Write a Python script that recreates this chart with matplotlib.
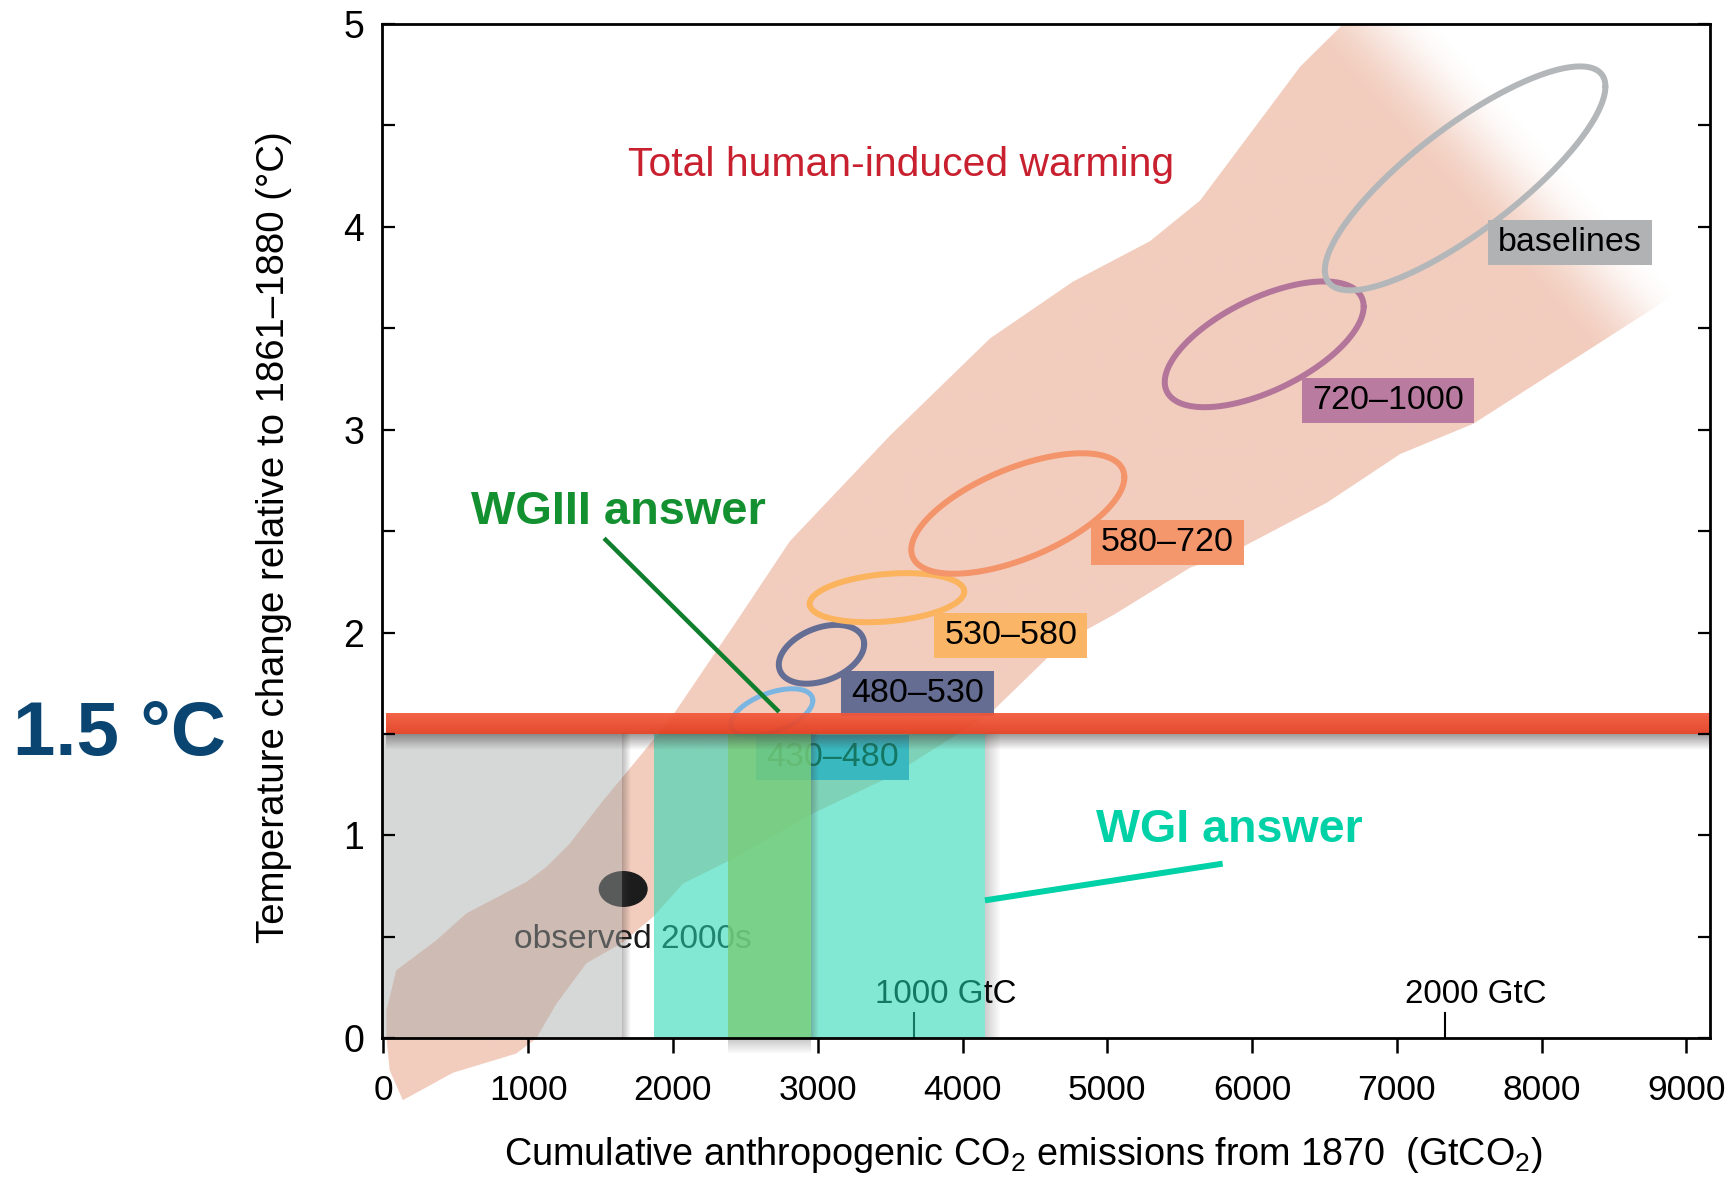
import numpy as np
import matplotlib
matplotlib.use("Agg")
import matplotlib.pyplot as plt
from matplotlib import font_manager as fm
from matplotlib.patches import Polygon, Rectangle, Ellipse
from matplotlib.colors import to_rgb
from matplotlib.ticker import MultipleLocator
from matplotlib.transforms import offset_copy

# ---------------- data ----------------
x_tick_values = [0, 1000, 2000, 3000, 4000, 5000, 6000, 7000, 8000, 9000]
y_tick_values = [0, 1, 2, 3, 4, 5]
gtc_marks = [1000, 2000]
gtc_labels = ["1000 GtC", "2000 GtC"]
GTCO2_PER_GTC = 3.667

# range of total human-induced warming (GtCO2, degC): upper-left and lower-right edges
band_left_x = [134, 43, 21, 21, 88, 365, 573, 988, 1126, 1287, 1515, 1748, 1978,
               2462, 2807, 3498, 4190, 4763, 4950, 5296, 5641, 5987, 6333, 6630, 7800]
band_left_y = [-0.305, -0.158, 0.0, 0.138, 0.335, 0.483, 0.616, 0.771, 0.845, 0.96,
               1.17, 1.37, 1.57, 2.08, 2.45, 2.97, 3.45, 3.73, 3.80, 3.93, 4.13,
               4.46, 4.79, 5.0, 5.0]
band_right_x = [134, 480, 918, 1056, 1195, 1402, 1644, 1862, 2070, 2439, 2968, 3498,
                4189, 4694, 5050, 5572, 5849, 6516, 7023, 7530, 8820, 9150]
band_right_y = [-0.305, -0.17, -0.075, 0.0, 0.17, 0.37, 0.468, 0.598, 0.763, 0.894,
                1.109, 1.289, 1.60, 1.95, 2.09, 2.32, 2.39, 2.64, 2.88, 3.03, 3.62, 3.80]
band_fade_x = [7220, 8860]
band_fade_y = [4.95, 3.64]

# scenario categories (ppm CO2-eq): centre, half-ranges and correlation
scenario_labels = ["430–480", "480–530", "530–580", "580–720", "720–1000", "baselines"]
scenario_cx = [2683, 3026, 3478, 4382, 6084, 7472]
scenario_cy = [1.607, 1.893, 2.172, 2.587, 3.421, 4.239]
scenario_rx = [283, 295, 534, 736, 687, 969]
scenario_ry = [0.116, 0.145, 0.121, 0.297, 0.310, 0.552]
scenario_rho = [0.5, 0.35, 0.25, 0.6, 0.6, 0.82]
label_x = [3100, 3692, 4333, 5416, 6942, 8196]
label_y = [1.383, 1.700, 1.987, 2.443, 3.142, 3.925]

observed_x, observed_y = 1656, 0.736

past_range = [0, 1648]
wgi_range = [1867, 4155]
wgiii_range = [2381, 2952]
limit_temp = 1.5
limit_top = 1.6

wgiii_pointer_x = [1524, 2733]
wgiii_pointer_y = [2.465, 1.609]
wgi_pointer_x = [4155, 5797]
wgi_pointer_y = [0.680, 0.861]

# ---------------- styles ----------------
ellipse_colors = ["#7bb6e3", "#646d93", "#fbb35e", "#f4946a", "#b3759a", "#b4b7b9"]
ellipse_widths = [3.6, 4.3, 4.3, 4.3, 4.3, 4.3]
box_colors = ["#5792d2", "#666d93", "#fbb566", "#f5976d", "#b97ca0", "#b0b2b4"]
band_rgb = (242 / 255, 205 / 255, 190 / 255)

available = {f.name for f in fm.fontManager.ttflist}
NARROW = next((n for n in ["Liberation Sans Narrow", "Liberation Sans", "DejaVu Sans"]
               if n in available), "DejaVu Sans")
BOLD = next((n for n in ["Liberation Sans", "Roboto", "DejaVu Sans"] if n in available),
            "DejaVu Sans")

plt.rcParams["font.family"] = [NARROW, "DejaVu Sans"]
plt.rcParams["mathtext.fontset"] = "custom"
plt.rcParams["mathtext.rm"] = NARROW
plt.rcParams["mathtext.it"] = NARROW
plt.rcParams["mathtext.bf"] = NARROW

W, H = 1729, 1178
fig = plt.figure(figsize=(W / 100, H / 100), dpi=100)
fig.patch.set_facecolor("white")
ax = fig.add_axes([382 / W, 1 - 1038.3 / H, (1709.5 - 382) / W, (1038.3 - 24) / H])
ax.set_xlim(-10, 9160)
ax.set_ylim(0, 5)
ax.set_autoscale_on(False)

p0 = ax.transData.transform((0, 0))
p1 = ax.transData.transform((1000, 1))
sx = (p1[0] - p0[0]) / 1000.0   # px per GtCO2
sy = (p1[1] - p0[1])            # px per degC
renderer = fig.canvas.get_renderer()


def fit(txt, target, dim="width"):
    for _ in range(3):
        bb = txt.get_window_extent(renderer)
        cur = bb.width if dim == "width" else bb.height
        txt.set_fontsize(txt.get_fontsize() * target / cur)


def grad_image(x0, x1, y0, y1, rgb, a_start, a_end, z, horizontal=True, alpha=1.0):
    n = 64
    ramp = np.linspace(a_start, a_end, n)
    if horizontal:
        img = np.zeros((1, n, 4))
        img[0, :, :3] = rgb
        img[0, :, 3] = ramp * alpha
    else:
        img = np.zeros((n, 1, 4))
        img[:, 0, :3] = rgb
        img[:, 0, 3] = ramp * alpha
    im = ax.imshow(img, extent=(x0, x1, y0, y1), origin="lower", aspect="auto",
                   interpolation="bilinear", zorder=z)
    im.set_clip_box(fig.bbox)
    return im


# ---- warming range band with a faded upper end ----
poly_xy = np.column_stack([band_left_x + band_right_x[::-1],
                           band_left_y + band_right_y[::-1]])
gx = np.linspace(-10, 9200, 900)
gy = np.linspace(-0.4, 5.0, 560)
GX, GY = np.meshgrid(gx, gy)
pts = ax.transData.transform(np.column_stack([GX.ravel(), GY.ravel()]))
A = ax.transData.transform((band_fade_x[0], band_fade_y[0]))
B = ax.transData.transform((band_fade_x[1], band_fade_y[1]))
d = B - A
nrm = np.array([d[1], -d[0]]) / np.hypot(*d)
far = ax.transData.transform((9160, 5.0))
if np.dot(far - A, nrm) < 0:
    nrm = -nrm
s = ((pts - A) @ nrm).reshape(GX.shape)
a = np.clip((15.0 - s) / 105.0, 0, 1)
a = a * a * (3 - 2 * a)
band_img = np.zeros(GX.shape + (4,))
band_img[..., :3] = band_rgb
band_img[..., 3] = a
im = ax.imshow(band_img, extent=(gx[0], gx[-1], gy[0], gy[-1]), origin="lower",
               aspect="auto", interpolation="bilinear", zorder=1)
im.set_clip_path(Polygon(poly_xy, closed=True, transform=ax.transData))
im.set_clip_box(fig.bbox)

# ---- scenario ellipses ----
t = np.linspace(0, 2 * np.pi, 400)
for cx, cy, rx, ry, rho, col, lw in zip(scenario_cx, scenario_cy, scenario_rx, scenario_ry,
                                        scenario_rho, ellipse_colors, ellipse_widths):
    phi = np.arccos(rho)
    ax.plot(cx + rx * np.cos(t), cy + ry * np.cos(t - phi), color=col, lw=lw, zorder=2,
            solid_capstyle="round")

# ---- scenario labels ----
probe = ax.text(0, 0, "580–720", fontsize=28)
fit(probe, 126)
label_size = min(max(probe.get_fontsize(), 24.5), 28)
probe.remove()
for lab, lx, ly, bc in zip(scenario_labels, label_x, label_y, box_colors):
    txt = ax.text(lx, ly, lab, ha="center", va="center", fontsize=label_size,
                  color="black", zorder=3.1)
    wpx = txt.get_window_extent(renderer).width
    bw = (wpx + 20) / sx
    bh = 45 / sy
    ax.add_patch(Rectangle((lx - bw / 2, ly - bh / 2), bw, bh, facecolor=bc,
                           edgecolor="none", zorder=3))

# ---- observed 2000s ----
ax.add_patch(Ellipse((observed_x, observed_y), 49 / sx, 36 / sy, facecolor="#1c1c1c",
                     edgecolor="none", zorder=3))
obs_txt = ax.text(1721, 0.444, "observed 2000s", ha="center", va="baseline",
                  fontsize=28, color="#1a1a1a", zorder=3)

# ---- GtC scale ----
for gm, gl in zip(gtc_marks, gtc_labels):
    xv = gm * GTCO2_PER_GTC
    ax.plot([xv, xv], [0, 0.123], color="black", lw=1.5, zorder=3)
    gt = ax.text(xv, 0.173, gl, ha="center", va="baseline", fontsize=28, color="black",
                 zorder=3,
                 transform=offset_copy(ax.transData, fig=fig, x=31, y=0, units="dots"))
    fit(gt, 141)

# ---- answer ranges ----
shadow_rgb = (0.25, 0.22, 0.22)
ax.add_patch(Rectangle((past_range[0], 0), past_range[1] - past_range[0], limit_temp,
                       facecolor=(164 / 255, 169 / 255, 169 / 255), alpha=0.45,
                       edgecolor="none", zorder=4))
grad_image(past_range[1], past_range[1] + 9 / sx, 0, limit_temp, shadow_rgb, 0.35, 0, 4.05)
ax.add_patch(Rectangle((wgi_range[0], 0), wgi_range[1] - wgi_range[0], limit_temp,
                       facecolor=(35 / 255, 214 / 255, 178 / 255), alpha=0.56,
                       edgecolor="none", zorder=4.1))
grad_image(wgi_range[1], wgi_range[1] + 16 / sx, 0, limit_temp, shadow_rgb, 0.25, 0, 4.15)
ax.add_patch(Rectangle((wgiii_range[0], 0), wgiii_range[1] - wgiii_range[0], limit_temp,
                       facecolor=(120 / 255, 204 / 255, 120 / 255), alpha=0.8,
                       edgecolor="none", zorder=4.2))
grad_image(wgiii_range[1], wgiii_range[1] + 8 / sx, 0, limit_temp, shadow_rgb, 0.3, 0, 4.25)
grad_image(wgiii_range[0], wgiii_range[1], -16 / sy, 0, shadow_rgb, 0, 0.3, 4.25,
           horizontal=False)

# ---- 1.5 degC line ----
grad_image(20, 9160, limit_temp - 16 / sy, limit_temp, shadow_rgb, 0, 0.5, 5.0,
           horizontal=False)
red = np.zeros((32, 1, 4))
red[:, 0, :3] = np.linspace(to_rgb("#e23c1e"), to_rgb("#f2583a"), 32)
red[:, 0, 3] = 0.93
ax.imshow(red, extent=(20, 9160, limit_temp, limit_top), origin="lower", aspect="auto",
          interpolation="bilinear", zorder=5.1)

# ---- pointers and answer texts ----
ax.plot(wgiii_pointer_x, wgiii_pointer_y, color="#0f7f2d", lw=3.2, zorder=6,
        solid_capstyle="butt")
ax.plot(wgi_pointer_x, wgi_pointer_y, color="#00d1a6", lw=4.3, zorder=6,
        solid_capstyle="butt")
wgiii_txt = ax.text(1622, 2.535, "WGIII answer", ha="center", va="baseline",
                    fontsize=34, fontweight="bold", family=[BOLD, "DejaVu Sans"],
                    color="#13902f", zorder=6)
wgi_txt = ax.text(5843, 0.968, "WGI answer", ha="center", va="baseline",
                  fontsize=34, fontweight="bold", family=[BOLD, "DejaVu Sans"],
                  color="#00d1a6", zorder=6)
title_txt = ax.text(3575, 4.25, "Total human-induced warming", ha="center", va="baseline",
                    fontsize=33, color="#c9202f", zorder=6)
limit_txt = fig.text(13 / W, 1 - 755 / H, "1.5 °C", ha="left", va="baseline",
                     fontsize=58, fontweight="bold", family=[BOLD, "DejaVu Sans"],
                     color="#0a4571")

# ---- axes styling ----
for sp in ax.spines.values():
    sp.set_linewidth(2.0)
    sp.set_zorder(10)
ax.xaxis.set_zorder(10)
ax.yaxis.set_zorder(10)
ax.set_xticks(x_tick_values)
ax.set_xticklabels([str(v) for v in x_tick_values])
ax.set_yticks(y_tick_values)
ax.set_yticklabels([str(v) for v in y_tick_values])
ax.yaxis.set_minor_locator(MultipleLocator(0.5))
ax.tick_params(axis="x", which="major", direction="out", length=10.8, width=1.8,
               pad=15, labelsize=25.5, top=False)
ax.tick_params(axis="y", which="both", direction="in", length=9, width=1.6,
               left=True, right=True, labelright=False, pad=13, labelsize=27)

ylab = fig.text(273.5 / W, 1 - 537.5 / H, "Temperature change relative to 1861–1880 (°C)",
                rotation=90, ha="center", va="center", fontsize=30, color="black")
xlab = fig.text(1023 / W, 1 - 1165 / H,
                "Cumulative anthropogenic CO$_2$ emissions from 1870  (GtCO$_2$)",
                ha="center", va="baseline", fontsize=30, color="black")

fit(title_txt, 546)
fit(limit_txt, 213)
fit(wgiii_txt, 295)
fit(wgi_txt, 267)
fit(obs_txt, 238)
fit(ylab, 811, "height")
fit(xlab, 1037)

ax.set_xlim(-10, 9160)
ax.set_ylim(0, 5)
fig.savefig("out.png", dpi=100, facecolor="white")
